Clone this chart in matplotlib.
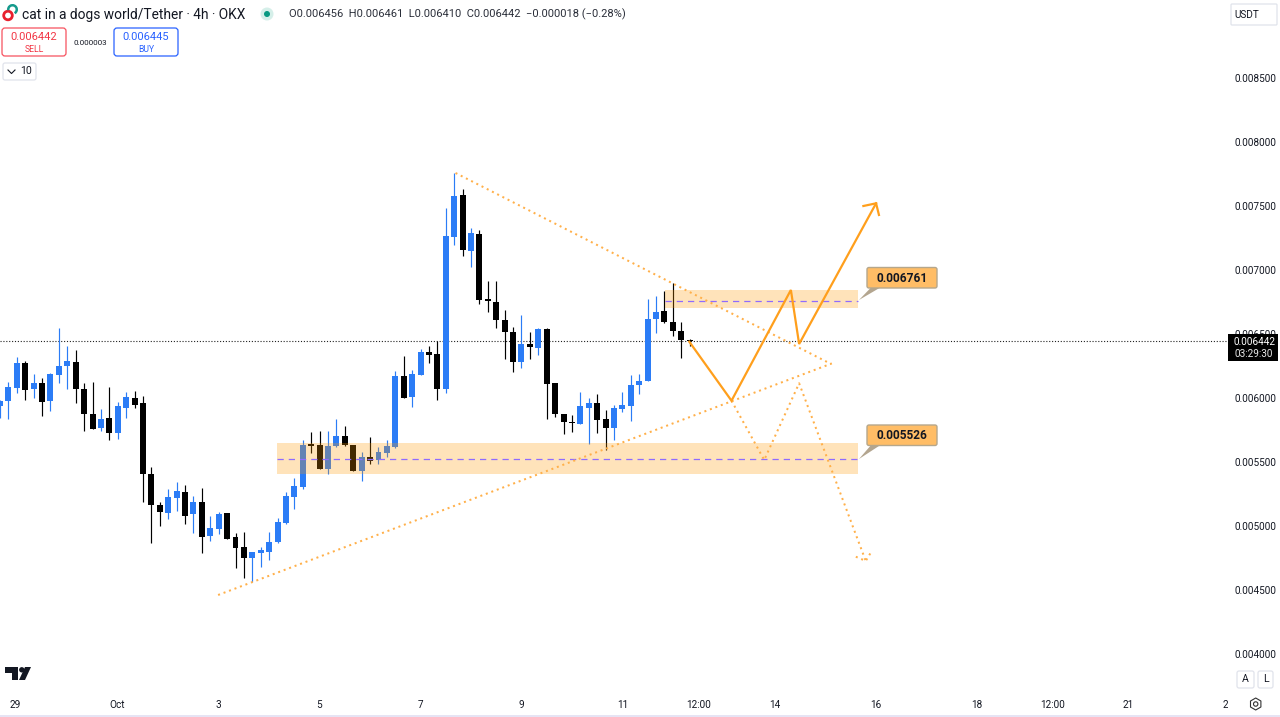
import matplotlib
matplotlib.use("Agg")
import matplotlib.pyplot as plt
from matplotlib.patches import FancyBboxPatch, Rectangle, Polygon, Circle, Arc, RegularPolygon
import numpy as np

plt.rcParams['font.family'] = ['Roboto', 'DejaVu Sans']

# candles, prices in millionths of a USDT, one bar = 4h
opens = [5940, 5977, 6076, 6276, 6068, 6120, 5974, 6180, 6250, 6281, 6073, 5877, 5763, 5844, 5724, 5924, 6000,
         5959, 5406, 5164, 5099, 5221, 5268, 5094, 5190, 4922, 4977, 5099, 4914, 4834, 4752, 4787, 4795, 4875,
         5021, 5224, 5307, 5638, 5635, 5448, 5625, 5701, 5635, 5427, 5541, 5516, 5568, 5615, 6172, 6010, 6180,
         6362, 6341, 6068, 7258, 7588, 7151, 7279, 6773, 6752, 6609, 6516, 6284, 6422, 6393, 6537, 6115, 5877,
         5815, 5797, 5924, 5959, 5836, 5766, 5914, 5940, 6099, 6130, 6617, 6677, 6596, 6521, 6456]
highs = [5984, 6127, 6323, 6289, 6188, 6154, 6193, 6545, 6406, 6375, 6115, 6123, 5912, 6088, 5971, 6049, 6057,
         6018, 5459, 5185, 5287, 5346, 5320, 5234, 5295, 5078, 5107, 5104, 4943, 4951, 4799, 4838, 4955, 5065,
         5268, 5377, 5672, 5732, 5745, 5745, 5834, 5784, 5635, 5580, 5693, 5615, 5672, 6209, 6330, 6219, 6383,
         6406, 6445, 7482, 7760, 7630, 7326, 7313, 6916, 6914, 6688, 6557, 6646, 6516, 6547, 6547, 6115, 5877,
         5870, 6045, 5998, 6034, 5904, 5945, 6047, 6180, 6188, 6773, 6797, 6838, 6896, 6591, 6461]
lows = [5844, 5836, 6037, 5984, 5998, 5859, 5901, 6115, 6070, 5959, 5745, 5758, 5745, 5672, 5677, 5841, 5924,
        5185, 4870, 5002, 5052, 5120, 5016, 4943, 4787, 4885, 4937, 4896, 4674, 4596, 4565, 4677, 4734, 4870,
        5013, 5133, 5287, 5568, 5443, 5406, 5620, 5625, 5427, 5352, 5484, 5482, 5541, 5612, 5998, 5932, 6180,
        6276, 5984, 6037, 7195, 7109, 7021, 6734, 6674, 6549, 6305, 6205, 6237, 6302, 6336, 5836, 5849, 5716,
        5737, 5797, 5641, 5729, 5594, 5672, 5888, 5823, 6029, 6130, 6510, 6584, 6487, 6310, 6410]
closes = [5977, 6084, 6276, 6062, 6120, 5966, 6188, 6248, 6289, 6070, 5873, 5758, 5836, 5724, 5938, 6005, 5945,
          5409, 5164, 5112, 5229, 5271, 5080, 5190, 4916, 4982, 5091, 4901, 4830, 4748, 4795, 4810, 4875, 5029,
          5232, 5312, 5635, 5627, 5443, 5627, 5701, 5630, 5427, 5541, 5510, 5576, 5623, 6170, 5998, 6188, 6362,
          6336, 6068, 7266, 7576, 7154, 7287, 6768, 6758, 6612, 6513, 6284, 6422, 6398, 6539, 6109, 5877, 5810,
          5802, 5938, 5959, 5830, 5766, 5920, 5945, 6099, 6130, 6615, 6670, 6591, 6526, 6453, 6442]

price_ticks = [8500, 8000, 7500, 7000, 6500, 6000, 5500, 5000, 4500, 4000]
date_pos = [1.78, 13.9, 25.9, 37.9, 50.0, 62.0, 74.0, 83.1, 92.1, 104.1, 116.1, 125.1, 134.1, 146.0]
date_labels = ['29', 'Oct', '3', '5', '7', '9', '11', '12:00', '14', '16', '18', '12:00', '21', '23']

# drawings: bar position and price
upper_x, upper_p = [54.16, 98.8], [7758, 6266]
lower_x, lower_p = [25.93, 98.9], [4461, 6270]
bull_x = [81.95, 86.97, 94.03, 95.01, 104.16]
bull_p = [6440, 5979, 6844, 6422, 7521]
bull_head_x = [102.65, 104.16, 104.5]
bull_head_p = [7500, 7521, 7430]
bear_x = [86.97, 90.86, 95.01, 102.93]
bear_p = [5979, 5516, 6115, 4727]
bear_head_x = [101.75, 102.93, 103.53]
bear_head_p = [4760, 4727, 4792]
zone_low = [5406, 5651, 5526]
zone_high = [6701, 6844, 6761]
zone_low_x = [32.9, 102.0]
zone_high_x = [79.06, 102.0]
last_price = 6442

BLUE = '#2b7cf6'
BLACK = '#000000'
ORANGE = '#ff9f1c'
TEXT = '#131722'

W, H = 1280, 717
fig = plt.figure(figsize=(W / 100, H / 100), dpi=100)
plot_w, plot_h = 1228, 690
ax = fig.add_axes([0, (H - plot_h) / H, plot_w / W, plot_h / H])
ax.set_xlim(0, plot_w / 8.42)
ax.set_ylim(8500 - (plot_h - 78) * 7.8125, 8500 + 78 * 7.8125)
for s in ax.spines.values():
    s.set_visible(False)

# candles
idx = np.arange(len(opens))
o, h, l, c = map(np.array, (opens, highs, lows, closes))
colors = [BLUE if cc >= oo else BLACK for oo, cc in zip(opens, closes)]
ax.vlines(idx, l, h, colors=colors, linewidth=0.85, zorder=2)
ax.bar(idx, np.maximum(np.abs(c - o), 8), bottom=np.minimum(o, c), width=0.71, color=colors, linewidth=0, zorder=3)

# last price
ax.axhline(last_price, color='#222222', linewidth=0.8, linestyle=(0, (1, 1.6)), zorder=1)

# zones
for zone, zx in ((zone_low, zone_low_x), (zone_high, zone_high_x)):
    ax.add_patch(Rectangle((zx[0], zone[0]), zx[1] - zx[0], zone[1] - zone[0], facecolor='#ff9800', alpha=0.27,
                           linewidth=0, zorder=4))
    ax.plot(zx, [zone[2], zone[2]], color='#8f6bff', linewidth=0.9, linestyle=(0, (5, 4)), zorder=5)

# triangle and paths
dots = dict(color='#ffb04a', linewidth=1.45, linestyle=(0, (1, 1.9)), zorder=6)
ax.plot(upper_x, upper_p, **dots)
ax.plot(lower_x, lower_p, **dots)
ax.plot(bear_x, bear_p, **dots)
ax.plot(bear_head_x, bear_head_p, **dots)
ax.plot(bull_x, bull_p, color=ORANGE, linewidth=1.6, zorder=7, solid_joinstyle='miter')
ax.plot(bull_head_x, bull_head_p, color=ORANGE, linewidth=1.6, zorder=7, solid_joinstyle='miter')

# axes
ax.yaxis.tick_right()
ax.set_yticks(price_ticks)
ax.set_yticklabels(['0.%06d' % p for p in price_ticks], fontsize=7.2, color=TEXT)
ax.tick_params(axis='y', length=0, pad=4.5)
ax.set_xticks(date_pos)
ax.set_xticklabels(date_labels, fontsize=7.2, color=TEXT)
ax.tick_params(axis='x', length=0, pad=7)

# overlay in pixels for the TradingView interface
ui = fig.add_axes([0, 0, 1, 1], facecolor='none')
ui.set_xlim(0, W)
ui.set_ylim(H, 0)
ui.axis('off')


def button(x0, y0, x1, y1, edge, face='white', lw=0.9, r=3):
    ui.add_patch(FancyBboxPatch((x0 + r, y0 + r), x1 - x0 - 2 * r, y1 - y0 - 2 * r, boxstyle='round,pad=%d,rounding_size=%d' % (r, r),
                                facecolor=face, edgecolor=edge, linewidth=lw))


# callouts
for top, label, tip_y in ((267.5, '0.006761', 300), (425, '0.005526', 459)):
    ui.add_patch(Polygon([[859, tip_y], [872, top + 19], [882, top + 19]], facecolor='#b3a58f', edgecolor='none'))
    button(867, top, 937, top + 20.5, '#b5a78c', '#ffbd66', lw=1.0, r=2)
    ui.text(902, top + 10.5, label, ha='center', va='center', fontsize=8.6, fontweight='bold', color=TEXT)

# title row
ui.add_patch(Circle((8, 15.5), 4.3, facecolor='none', edgecolor='#e8212e', linewidth=2.0))
ui.add_patch(Arc((12.5, 9.5), 8.5, 8.5, theta1=170, theta2=60, edgecolor='#159a8c', linewidth=1.8))
ui.text(21.5, 14.5, 'cat in a dogs world/Tether · 4h · OKX', fontsize=9.95, color=TEXT, va='center')
ui.add_patch(Circle((267, 14), 6.5, facecolor='#d5efe9', edgecolor='none'))
ui.add_patch(Circle((267, 14), 3, facecolor='#089981', edgecolor='none'))
ui.text(289, 14.5, 'O0.006456  H0.006461  L0.006410  C0.006442  −0.000018 (−0.28%)', fontsize=8, color='#2a2e39', va='center')

# sell and buy
button(2, 28, 66, 56, '#f7525f')
ui.text(34, 37, '0.006442', ha='center', va='center', fontsize=8, color='#f23645')
ui.text(34, 49, 'SELL', ha='center', va='center', fontsize=6.2, color='#f23645')
button(114, 28, 178, 56, '#2962ff')
ui.text(146, 37, '0.006445', ha='center', va='center', fontsize=8, color='#2962ff')
ui.text(146, 49, 'BUY', ha='center', va='center', fontsize=6.2, color='#2962ff')
ui.text(90, 43, '0.000003', ha='center', va='center', fontsize=5.8, color=TEXT)

# indicator counter
button(3, 63, 36, 80, '#e0e3eb', r=2)
ui.plot([8, 11.5, 15], [70, 73.5, 70], color=TEXT, linewidth=0.8)
ui.text(26, 71.5, '10', ha='center', va='center', fontsize=7.6, color=TEXT)

# currency, price tag, buttons
button(1231, 4, 1277, 25, '#e0e3eb', r=1)
ui.text(1234, 14.5, 'USDT', va='center', fontsize=7.2, color=TEXT)
ui.add_patch(Rectangle((1228, 334), 50, 27, facecolor='black', edgecolor='none', zorder=5))
ui.text(1254, 342, '0.006442', ha='center', va='center', fontsize=7.2, color='white', zorder=6)
ui.text(1254, 354, '03:29:30', ha='center', va='center', fontsize=7.2, color='#e8e8e8', zorder=6)
button(1237, 671, 1254, 688, '#e0e3eb', r=2)
ui.text(1245.5, 679.5, 'A', ha='center', va='center', fontsize=7.6, color=TEXT)
button(1258, 671, 1273, 688, '#e0e3eb', r=2)
ui.text(1265.5, 679.5, 'L', ha='center', va='center', fontsize=7.6, color=TEXT)
ui.add_patch(RegularPolygon((1255.7, 704), 6, radius=6, facecolor='none', edgecolor='#333333', linewidth=0.8))
ui.add_patch(Circle((1255.7, 704), 2.2, facecolor='none', edgecolor='#333333', linewidth=0.8))
# last date label is cut off by the price scale
ui.add_patch(Rectangle((1228, 695), 16, 18, facecolor='white', edgecolor='none'))

# tradingview logo
ui.add_patch(Polygon([[5, 667], [18, 667], [18, 680], [11.5, 680], [11.5, 673], [5, 673]], facecolor='#131722', edgecolor='none'))
ui.add_patch(Circle((21.8, 669.8), 2.7, facecolor='#131722', edgecolor='none'))
ui.add_patch(Polygon([[25, 667], [31, 667], [25, 680], [19, 680]], facecolor='#131722', edgecolor='none'))

# bottom edge
ui.plot([0, W], [716, 716], color='#e6e4f4', linewidth=1.4)

fig.savefig('out.png', dpi=100)
